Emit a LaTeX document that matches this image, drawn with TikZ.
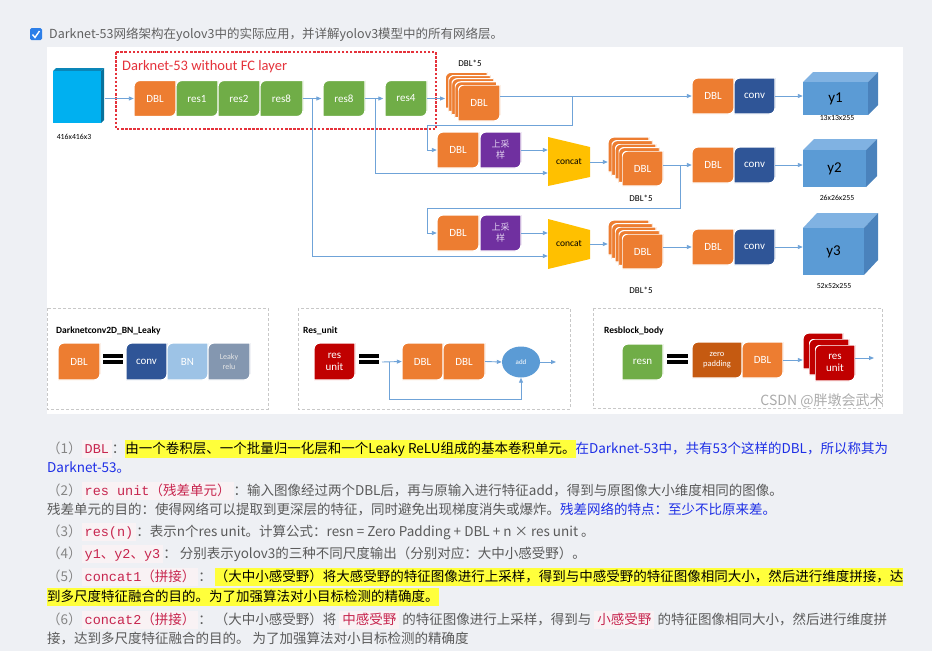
\documentclass[tikz,border=0pt]{standalone}
\usepackage{fontspec}
\usetikzlibrary{arrows.meta,shapes.geometric,calc}
\newfontfamily\cjk{Noto Sans CJK SC}
\newfontfamily\calf{Carlito}
\newfontfamily\codef{Liberation Mono}
\definecolor{pagebg}{HTML}{EEF0F4}
\definecolor{dblor}{HTML}{ED7D31}
\definecolor{resgr}{HTML}{70AD47}
\definecolor{convbl}{HTML}{2F5597}
\definecolor{uppur}{HTML}{7030A0}
\definecolor{upt}{HTML}{E2D3F0}
\definecolor{catyel}{HTML}{FFC000}
\definecolor{cubeb}{HTML}{5B9BD5}
\definecolor{cubetop}{HTML}{80B2E2}
\definecolor{cubeside}{HTML}{4A82BC}
\definecolor{inpb}{HTML}{00B0F0}
\definecolor{inpd}{HTML}{0A86B8}
\definecolor{lnb}{HTML}{6FA3D8}
\definecolor{fcred}{HTML}{E5323B}
\definecolor{bnbl}{HTML}{9DC3E6}
\definecolor{lkgr}{HTML}{8497B0}
\definecolor{resred}{HTML}{C00000}
\definecolor{zpor}{HTML}{C55A11}
\definecolor{dashg}{HTML}{C8C8C8}
\definecolor{txtg}{HTML}{5A5A5A}
\definecolor{numg}{HTML}{858585}
\definecolor{hdg}{HTML}{606060}
\definecolor{codered}{HTML}{C7254E}
\definecolor{codebg}{HTML}{F9F2F4}
\definecolor{hlyel}{HTML}{FFFF3B}
\definecolor{blutx}{HTML}{1E2FE6}
\definecolor{chkbl}{HTML}{2D7FE8}
\definecolor{wmark}{HTML}{ABABAB}
\newcommand\cde[1]{{\setlength{\fboxsep}{0pt}\colorbox{codebg}{\strut\hspace{3pt}\color{codered}#1\hspace{3pt}}}}
\newcommand\hlt[1]{{\setlength{\fboxsep}{0pt}\colorbox{hlyel}{\strut\color{black}#1}}}
\tikzset{
  rbox/.style={rectangle, inner sep=0pt, minimum width=42pt, minimum height=36pt,
    text=white, font=\calf\fontsize{11}{12}\selectfont, align=center,
    path picture={\fill[#1, draw=white, line width=1.2pt]
      ([yshift=-6pt]path picture bounding box.north west)
      arc[start angle=180, end angle=90, radius=6pt]
      -- (path picture bounding box.north east)
      -- ([yshift=6pt]path picture bounding box.south east)
      arc[start angle=0, end angle=-90, radius=6pt]
      -- (path picture bounding box.south west) -- cycle;}},
  ln/.style={draw=lnb, line width=0.9pt},
  arr/.style={ln, -{Triangle[length=5pt,width=4pt]}},
  catlab/.style={inner sep=0pt, minimum width=42pt, minimum height=49pt, font=\calf\fontsize{9.5}{10}\selectfont},
  small/.style={inner sep=0pt, font=\calf\fontsize{7.8}{8.5}\selectfont},
  dbl5/.style={inner sep=0pt, font=\calf\fontsize{9}{10}\selectfont},
  cubef/.style={fill=cubeb, inner sep=0pt, font=\calf\fontsize{15}{16}\selectfont},
  panel/.style={draw=dashg, line width=0.8pt, dash pattern=on 3pt off 2pt},
  ptitle/.style={anchor=west, inner sep=0pt, font=\calf\bfseries\fontsize{9.5}{11}\selectfont},
  txt/.style={anchor=base west, inner sep=0pt, text=txtg, font=\cjk\fontsize{13.5}{18}\selectfont},
  upbox/.style={rbox=uppur, minimum width=41pt, text=upt, font=\cjk\fontsize{9}{11}\selectfont}
}
\begin{document}
\begin{tikzpicture}[x=1pt,y=-1pt]
\useasboundingbox (0,0) rectangle (932,651);
\fill[pagebg] (0,0) rectangle (932,651);
\fill[white] (47,47) rectangle (903,414);

% header
\node[fill=chkbl, rounded corners=1.5pt, minimum size=12pt, inner sep=0pt] (chk) at (36,34) {};
\draw[white, line width=1.4pt] (chk.center) ++(-3.5,0.5) -- ++(2.5,3) -- ++(4.5,-6.5);
\node[anchor=base west, inner sep=0pt, text=hdg, font=\cjk\fontsize{12.5}{15}\selectfont] (hdr) at (49,38.5) {Darknet-53网络架构在yolov3中的实际应用，并详解yolov3模型中的所有网络层。};

% input cube
\fill[inpd] (53,71) -- (56,68) -- (104,68) -- (101,71) -- cycle;
\fill[inpd!85!black] (101,71) -- (104,68) -- (104,120) -- (101,123) -- cycle;
\node[fill=inpb, minimum width=48pt, minimum height=52pt, inner sep=0pt] (inp) at (77,97) {};
\node[small] (inl) at (74,137) {416x416x3};

% Darknet-53 frame
\draw[fcred, line width=1.1pt, dash pattern=on 2.5pt off 1.6pt] (116,52) rectangle (436,129);
\node[anchor=west, inner sep=0pt, text=fcred, font=\calf\fontsize{14.5}{16}\selectfont] (fct) at (122,67) {Darknet-53 without FC layer};

% main row
\node[rbox=dblor] (d0) at (155,98.5) {DBL};
\node[rbox=resgr] (r1) at (197,98.5) {res1};
\node[rbox=resgr] (r2) at (239,98.5) {res2};
\node[rbox=resgr, minimum width=43pt] (r8a) at (281.5,98.5) {res8};
\node[rbox=resgr] (r8b) at (344,98.5) {res8};
\node[rbox=resgr] (r4) at (406,98.5) {res4};

% stack 1
\foreach \k in {4,3,2,1} \node[rbox=dblor] (s1l\k) at ({479-3.2*\k},{103-3.2*\k}) {};
\node[rbox=dblor] (s1) at (479,103) {DBL};
\node[dbl5] (s1t) at (470,63) {DBL*5};

% row 1 right
\node[rbox=dblor] (d1) at (713,96) {DBL};
\node[rbox=convbl, minimum width=41pt] (cv1) at (754.5,96) {conv};
\fill[cubetop] (803,82) -- (813,72) -- (878,72) -- (868,82) -- cycle;
\fill[cubeside] (868,82) -- (878,72) -- (878,105) -- (868,115) -- cycle;
\node[cubef, minimum width=65pt, minimum height=33pt] (y1) at (835.5,98.5) {y1};
\node[small] (y1t) at (837,118) {13x13x255};

% row 2
\node[rbox=dblor] (u2d) at (458,150) {DBL};
\node[upbox] (u2) at (500.5,150) {上采\\样};
\fill[catyel] (548,137) -- (590,147) -- (590,177) -- (548,186) -- cycle;
\node[catlab] (c1) at (569,162) {concat};
\foreach \k in {4,3,2,1} \node[rbox=dblor, minimum width=41pt, minimum height=35pt] (s2l\k) at ({642.5-3.5*\k},{168.5-3.5*\k}) {};
\node[rbox=dblor, minimum width=41pt, minimum height=35pt] (s2) at (642.5,168.5) {DBL};
\node[dbl5] (s2t) at (641,198) {DBL*5};
\node[rbox=dblor] (d2) at (713,165) {DBL};
\node[rbox=convbl, minimum width=41pt] (cv2) at (754.5,165) {conv};
\fill[cubetop] (803,150) -- (814,139) -- (877,139) -- (866,150) -- cycle;
\fill[cubeside] (866,150) -- (877,139) -- (877,176) -- (866,187) -- cycle;
\node[cubef, minimum width=63pt, minimum height=37pt] (y2) at (834.5,168.5) {y2};
\node[small] (y2t) at (837,198) {26x26x255};

% row 3
\node[rbox=dblor] (u3d) at (458,233) {DBL};
\node[upbox] (u3) at (500.5,233) {上采\\样};
\fill[catyel] (548,219) -- (590,230) -- (590,259) -- (548,269) -- cycle;
\node[catlab] (c2) at (569,244) {concat};
\foreach \k in {4,3,2,1} \node[rbox=dblor, minimum width=41pt, minimum height=35pt] (s3l\k) at ({642.5-3.5*\k},{251.5-3.5*\k}) {};
\node[rbox=dblor, minimum width=41pt, minimum height=35pt] (s3) at (642.5,251.5) {DBL};
\node[dbl5] (s3t) at (641,290) {DBL*5};
\node[rbox=dblor] (d3) at (713,247) {DBL};
\node[rbox=convbl, minimum width=41pt] (cv3) at (754.5,247) {conv};
\fill[cubetop] (803,228) -- (817,213) -- (878,213) -- (864,228) -- cycle;
\fill[cubeside] (864,228) -- (878,213) -- (878,260) -- (864,275) -- cycle;
\node[cubef, minimum width=61pt, minimum height=47pt] (y3) at (833.5,251.5) {y3};
\node[small] (y3t) at (834,286) {52x52x255};

% connectors main
\draw[arr, shorten <=4pt] (inp.east |- d0.west) -- (d0.west);
\draw[arr, shorten >=1.5pt] (r8a) -- (r8b);
\draw[arr, shorten >=1.5pt] (r8b) -- (r4);
\draw[arr] (r4.east) -- (r4.east -| s1l4.west);
\draw[arr] (s1.east |- d1.west) -- (d1.west);
\draw[arr] (cv1.east) -- (cv1.east -| y1.west);
\coordinate (b3) at (572,96);
\coordinate (k3a) at (572,125);
\coordinate (k3b) at (427,125);
\draw[arr] (b3) -- (k3a) -- (k3b) |- (u2d.west);
\draw[arr] (u2.east) -- (u2.east -| c1.west);
\coordinate (b2) at (375,98.5);
\draw[arr] (b2) |- ($(c1.west)+(0,11)$);
\draw[arr] (c1.east) -- (c1.east -| s2l4.west);
\draw[arr] (s2.east |- d2.west) -- (d2.west);
\draw[arr] (cv2.east) -- (cv2.east -| y2.west);
\coordinate (b4) at (680,165);
\coordinate (k4a) at (680,208);
\coordinate (k4b) at (427,208);
\draw[arr] (b4) -- (k4a) -- (k4b) |- (u3d.west);
\draw[arr] (u3.east) -- (u3.east -| c2.west);
\coordinate (b1) at (312,98.5);
\draw[arr] (b1) |- ($(c2.west)+(0,12)$);
\draw[arr] (c2.east) -- (c2.east -| s3l4.west);
\draw[arr] (s3.east |- d3.west) -- (d3.west);
\draw[arr] (cv3.east) -- (cv3.east -| y3.west);

% panel 1
\draw[panel] (47,308) rectangle (268,409);
\node[ptitle] (p1t) at (56,331) {Darknetconv2D\_BN\_Leaky};
\node[rbox=dblor, minimum height=37pt] (pd) at (79,361.5) {DBL};
\fill (103,354) rectangle (123,358);
\fill (103,360) rectangle (123,364);
\node[rbox=convbl, minimum width=41pt, minimum height=37pt] (pc) at (146.5,361.5) {conv};
\node[rbox=bnbl, minimum width=41pt, minimum height=37pt] (pb) at (187.5,361.5) {BN};
\node[rbox=lkgr, minimum height=37pt, font=\calf\fontsize{8}{9.5}\selectfont, text=white!90!black] (pl) at (229,361.5) {Leaky\\relu};

% panel 2
\draw[panel] (298,308) rectangle (570,409);
\node[ptitle] (p2t) at (303,331) {Res\_unit};
\node[rbox=resred, minimum width=41pt, minimum height=37pt] (ru) at (334.5,361.5) {res\\unit};
\fill (359,354) rectangle (379,358);
\fill (359,360) rectangle (379,364);
\node[rbox=dblor, minimum width=41pt, minimum height=37pt] (ud1) at (422.5,361.5) {DBL};
\node[rbox=dblor, minimum height=37pt] (ud2) at (464,361.5) {DBL};
\node[ellipse, fill=cubeb, minimum width=38pt, minimum height=31pt, inner sep=0pt, text=white, font=\calf\fontsize{7}{8}\selectfont] (add) at (521,362) {add};
\coordinate (rs) at (382,362);
\coordinate (rb) at (389,362);
\coordinate (rk) at (389,399);
\coordinate (ro) at (556,362);
\draw[arr] (rs) -- (ud1.west);
\draw[arr] (rb) -- (rk) -| (add.south);
\draw[arr] (ud2.east) -- (add.west);
\draw[arr] (add.east) -- (ro);

% panel 3
\draw[panel] (593,308) rectangle (882,408);
\node[ptitle] (p3t) at (604,331) {Resblock\_body};
\node[rbox=resgr, minimum width=41pt] (rn) at (642.5,362) {resn};
\fill (667,354) rectangle (688,358);
\fill (667,360) rectangle (688,364);
\node[rbox=zpor, minimum width=50pt, font=\calf\fontsize{8.5}{10}\selectfont] (zp) at (717,360) {zero\\padding};
\node[rbox=dblor, minimum width=41pt] (zd) at (762.5,360) {DBL};
\foreach \k in {2,1} \node[rbox=resred, minimum width=40pt] (rul\k) at ({835-6*\k},{363-6*\k}) {};
\node[rbox=resred, minimum width=40pt] (rus) at (835,363) {res\\unit};
\coordinate (rso) at (874,358);
\draw[arr] (zd.east) -- (zd.east -| rul2.west);
\draw[arr] (rus.east |- rso) -- (rso);

\node[inner sep=0pt, text=wmark, font=\cjk\fontsize{14}{16}\selectfont] (wm) at (822,401) {CSDN @胖墩会武术};

% text block
\node[txt] (t1) at (47,453) {{\color{numg}（1）}\cde{{\codef DBL}}：\hlt{由一个卷积层、一个批量归一化层和一个Leaky ReLU组成的基本卷积单元。}{\color{blutx}在Darknet-53中，共有53个这样的DBL，所以称其为}};
\node[txt, text=blutx] (t2) at (47,472) {Darknet-53。};
\node[txt] (t3) at (47,495) {{\color{numg}（2）}\cde{{\codef res unit}（残差单元）}：输入图像经过两个DBL后，再与原输入进行特征add，得到与原图像大小维度相同的图像。};
\node[txt] (t4) at (47,514) {残差单元的目的：使得网络可以提取到更深层的特征，同时避免出现梯度消失或爆炸。{\color{blutx}残差网络的特点：至少不比原来差。}};
\node[txt] (t5) at (47,536) {{\color{numg}（3）}\cde{{\codef res(n)}}：表示n个res unit。计算公式：resn = Zero Padding + DBL + n × res unit 。};
\node[txt] (t6) at (47,558) {{\color{numg}（4）}\cde{{\codef y1}、{\codef y2}、{\codef y3}}： 分别表示yolov3的三种不同尺度输出（分别对应：大中小感受野）。};
\node[txt] (t7) at (47,581) {{\color{numg}（5）}\cde{{\codef concat1}（拼接）}： \hlt{（大中小感受野）将大感受野的特征图像进行上采样，得到与中感受野的特征图像相同大小，然后进行维度拼接，达}};
\node[txt] (t8) at (47,601) {\hlt{到多尺度特征融合的目的。为了加强算法对小目标检测的精确度。}};
\node[txt] (t9) at (47,624) {{\color{numg}（6）}\cde{{\codef concat2}（拼接）}： （大中小感受野）将 \cde{中感受野} 的特征图像进行上采样，得到与 \cde{小感受野} 的特征图像相同大小，然后进行维度拼};
\node[txt] (t10) at (47,643) {接，达到多尺度特征融合的目的。 为了加强算法对小目标检测的精确度};
\end{tikzpicture}
\end{document}
